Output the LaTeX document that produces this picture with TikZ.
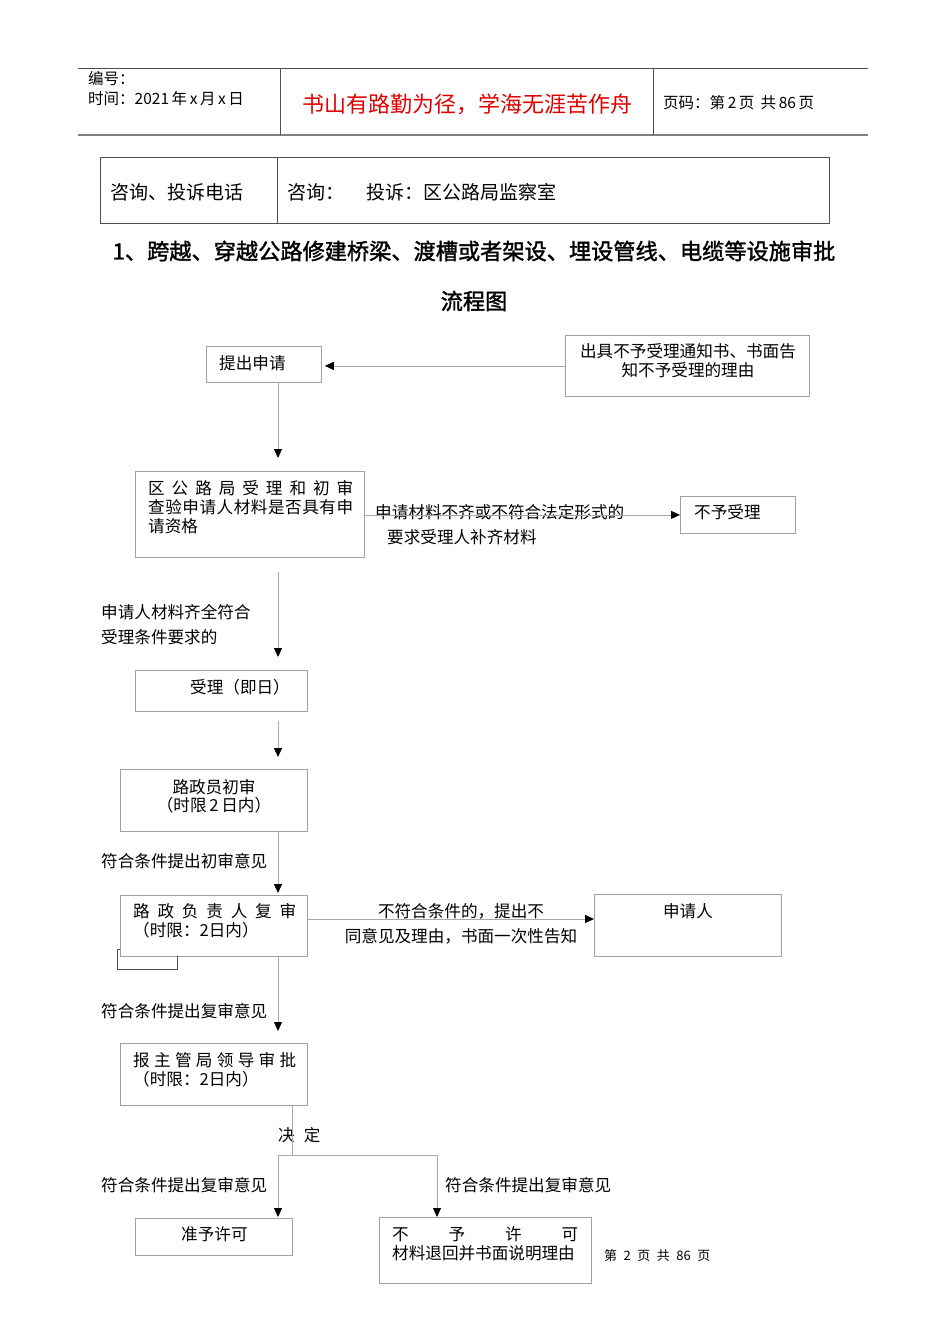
\documentclass[tikz,border=0pt]{standalone}
\usepackage{fontspec}
\setmainfont{Noto Sans CJK SC}
\newfontfamily\cjkbold[FakeBold=1.5]{Noto Sans CJK SC}
\usetikzlibrary{arrows.meta,calc}
\definecolor{boxgray}{HTML}{A0A0A0}
\definecolor{linegray}{HTML}{A8A8A8}
\definecolor{rulegray}{HTML}{505050}
\definecolor{redtxt}{HTML}{E00000}
\begin{document}
\begin{tikzpicture}[x=1pt,y=-1pt,
  box/.style={draw=boxgray, line width=0.8pt, inner sep=0, anchor=north west},
  txt/.style={inner sep=0, anchor=west, font=\fontsize{16.6}{19}\selectfont},
  ctxt/.style={inner sep=0, anchor=center, font=\fontsize{16.6}{19}\selectfont},
  hdr/.style={inner sep=0, anchor=west, font=\fontsize{15.5}{18}\selectfont},
  tbl/.style={inner sep=0, anchor=west, font=\fontsize{19}{22}\selectfont},
  ttl/.style={inner sep=0, anchor=center, font=\fontsize{22.2}{26}\cjkbold},
  ln/.style={draw=linegray, line width=0.8pt},
  arr/.style={draw=linegray, line width=0.8pt, -{Triangle[length=9pt,width=8pt,color=black]}},
  rule/.style={draw=rulegray, line width=0.8pt}
]
\useasboundingbox[fill=white] (0,0) rectangle (950,1344);

% ---------- header ----------
\draw[rule] (78,68) -- (868,68);
\draw[draw=gray, line width=1.6pt] (78,135) -- (868,135);
\draw[rule] (280,68) -- (280,135);
\draw[rule] (653,68) -- (653,135);
\node[hdr] (h1) at (88,79) {编号：};
\node[hdr] (h2) at (88,99) {时间：2021\,年\,x\,月\,x\,日};
\node[inner sep=0, anchor=center, text=redtxt, font=\fontsize{22}{26}\selectfont] (h3) at (467,104) {书山有路勤为径，学海无涯苦作舟};
\node[hdr] (h4) at (663,103) {页码：第\,2\,页\hspace{0.4em}共\,86\,页};

% ---------- contact table ----------
\draw[rule] (100,157) rectangle (829,223);
\draw[rule] (277,157) -- (277,223);
\node[tbl] (t1) at (110,192) {咨询、投诉电话};
\node[tbl] (t2) at (287,192) {咨询：\hspace{1.2em}投诉：区公路局监察室};

% ---------- title ----------
\node[ttl] (ti1) at (474,251) {1、跨越、穿越公路修建桥梁、渡槽或者架设、埋设管线、电缆等设施审批};
\node[ttl] (ti2) at (474,301) {流程图};

% ---------- boxes ----------
\node[box, minimum width=115pt, minimum height=36pt] (apply) at (206,346) {};
\node[box, minimum width=244pt, minimum height=61pt] (notice) at (565,335) {};
\node[box, minimum width=229pt, minimum height=86pt] (review) at (135,471) {};
\node[box, minimum width=115pt, minimum height=37pt] (reject) at (680,496) {};
\node[box, minimum width=172pt, minimum height=41pt] (accept) at (135,670) {};
\node[box, minimum width=187pt, minimum height=62pt] (clerk) at (120,769) {};
\node[box, minimum width=187pt, minimum height=61pt] (chief) at (120,895) {};
\node[box, minimum width=187pt, minimum height=62pt] (applicant) at (594,894) {};
\node[box, minimum width=187pt, minimum height=62pt] (leader) at (120,1043) {};
\node[box, minimum width=157pt, minimum height=37pt] (grant) at (135,1218) {};
\node[box, minimum width=212pt, minimum height=66pt] (deny) at (379,1217) {};

% ---------- box texts ----------
\node[txt] (applyT) at (219,363) {提出申请};
\node[ctxt] (noticeT1) at (688,351) {出具不予受理通知书、书面告};
\node[ctxt] (noticeT2) at (688,370) {知不予受理的理由};
\node[txt] (reviewT1) at (148,488) {\makebox[205pt][l]{区\hfill 公\hfill 路\hfill 局\hfill 受\hfill 理\hfill 和\hfill 初\hfill 审}};
\node[txt] (reviewT2) at (148,507) {\makebox[205pt][l]{查\hfill 验\hfill 申\hfill 请\hfill 人\hfill 材\hfill 料\hfill 是\hfill 否\hfill 具\hfill 有\hfill 申}};
\node[txt] (reviewT3) at (148,526) {请资格};
\node[txt] (rejectT) at (694,512) {不予受理};
\node[txt] (acceptT) at (190,687) {受理（即日）};
\node[ctxt] (clerkT1) at (214,787) {路政员初审};
\node[ctxt] (clerkT2) at (214,805) {（时限\,2\,日内）};
\node[txt] (chiefT1) at (133,911) {\makebox[163pt][l]{路\hfill 政\hfill 负\hfill 责\hfill 人\hfill 复\hfill 审}};
\node[txt] (chiefT2) at (133,930) {（时限：2日内）};
\node[ctxt] (applicantT) at (688,911) {申请人};
\node[txt] (leaderT1) at (133,1060) {\makebox[163pt][l]{报\hfill 主\hfill 管\hfill 局\hfill 领\hfill 导\hfill 审\hfill 批}};
\node[txt] (leaderT2) at (133,1079) {（时限：2日内）};
\node[txt] (grantT) at (181,1234) {准予许可};
\node[txt] (denyT1) at (392,1234) {\makebox[186pt][l]{不\hfill 予\hfill 许\hfill 可}};
\node[txt] (denyT2) at (392,1253) {材料退回并书面说明理由};

% ---------- connector labels ----------
\node[txt] (l1a) at (375,512) {申请材料不齐或不符合法定形式的};
\node[txt] (l1b) at (387,537) {要求受理人补齐材料};
\node[txt] (l2a) at (101,612) {申请人材料齐全符合};
\node[txt] (l2b) at (101,637) {受理条件要求的};
\node[txt] (l3) at (101,861) {符合条件提出初审意见};
\node[ctxt] (l4a) at (461,911) {不符合条件的，提出不};
\node[ctxt] (l4b) at (461,936) {同意见及理由，书面一次性告知};
\node[txt] (l5) at (101,1011) {符合条件提出复审意见};
\node[txt] (l6) at (278,1135) {决\hspace{0.55em}定};
\node[txt] (l7) at (101,1185) {符合条件提出复审意见};
\node[txt] (l8) at (445,1185) {符合条件提出复审意见};
\node[inner sep=0, anchor=west, font=\fontsize{13}{15}\selectfont] (foot) at (604,1256) {第\hspace{0.5em}2\hspace{0.5em}页\hspace{0.5em}共\hspace{0.5em}86\hspace{0.5em}页};

% ---------- connectors ----------
\coordinate (sp) at (278,0);
\coordinate (r4) at (0,919);
\coordinate (fk) at (292,1155);
\coordinate (fl) at (278,1155);
\coordinate (fr) at (437,1155);

\draw[arr, shorten >=3pt] (notice.west) -- (notice.west -| apply.east);
\draw[arr, shorten >=13pt] (apply.south -| sp) -- (review.north -| sp);
\draw[arr] (review.east |- reject.west) -- (reject.west);
\draw[arr, shorten <=14pt, shorten >=13pt] (review.south -| sp) -- (accept.north -| sp);
\draw[arr, shorten <=9pt, shorten >=12pt] (accept.south -| sp) -- (clerk.north -| sp);
\draw[arr, shorten >=2pt] (clerk.south -| sp) -- (chief.north -| sp);
\draw[arr] (chief.east |- r4) -- (applicant.west |- r4);
\draw[arr, shorten >=12pt] (chief.south -| sp) -- (leader.north -| sp);
\draw[ln] (leader.south -| fk) -- (fk);
\draw[ln] (fl) -- (fr);
\draw[arr, shorten >=1pt] (fl) -- (fl |- grant.north);
\draw[arr] (fr) -- (fr |- deny.north);

% small bracket under the review box
\draw[rule] (117,949) -- (120,949);
\draw[rule] (117,949) -- (117,969) -- (177,969) -- (177,956);
\end{tikzpicture}
\end{document}
